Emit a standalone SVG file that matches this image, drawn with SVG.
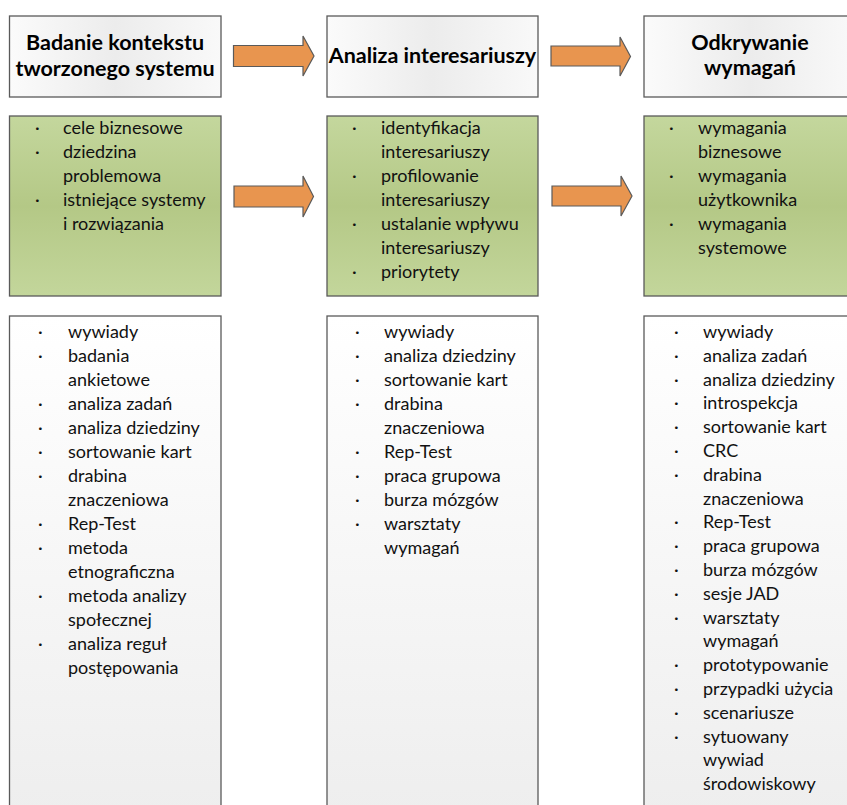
<svg xmlns="http://www.w3.org/2000/svg" width="847" height="805" viewBox="0 0 847 805">
  <defs>
    <linearGradient id="headFill" x1="0" y1="0" x2="1" y2="0">
      <stop offset="0" stop-color="#fbfbfb"/>
      <stop offset="0.5" stop-color="#ececec"/>
      <stop offset="1" stop-color="#f9f9f9"/>
    </linearGradient>
    <linearGradient id="greenFill" x1="0" y1="0" x2="0" y2="1">
      <stop offset="0" stop-color="#c4d79d"/>
      <stop offset="0.5" stop-color="#b4c886"/>
      <stop offset="1" stop-color="#c3d69b"/>
    </linearGradient>
    <linearGradient id="listFill" x1="0" y1="0" x2="0" y2="1">
      <stop offset="0" stop-color="#ffffff"/>
      <stop offset="1" stop-color="#eeeeee"/>
    </linearGradient>
  </defs>
  <style>
    .head { fill: url(#headFill); stroke: #5a5a5a; stroke-width: 1.3; }
    .green { fill: url(#greenFill); stroke: #5a5a5a; stroke-width: 1.3; }
    .list { fill: url(#listFill); stroke: #5a5a5a; stroke-width: 1.3; }
    .arrow { fill: #e8954f; stroke: #5a5a5a; stroke-width: 1.2; stroke-linejoin: miter; }
    .title { font-family: Lato, "Open Sans", "Liberation Sans", sans-serif; font-weight: bold; font-size: 21.5px; fill: #000; text-anchor: middle; }
    .item { font-family: Lato, "Open Sans", "Liberation Sans", sans-serif; font-size: 18px; fill: #111; }
  </style>
  <rect width="847" height="805" fill="#ffffff"/>

  <!-- column 1 -->
  <g id="context-title">
    <rect class="head" x="9.5" y="16" width="211.5" height="81"/>
    <text class="title" x="115" y="50">Badanie kontekstu</text>
    <text class="title" x="115" y="76">tworzonego systemu</text>
  </g>
  <g id="context-goals">
    <rect class="green" x="9.5" y="116" width="211.5" height="180"/>
    <g class="item">
      <text x="35" y="134">·</text><text x="63" y="134">cele biznesowe</text>
      <text x="35" y="158">·</text><text x="63" y="158">dziedzina</text>
      <text x="63" y="182">problemowa</text>
      <text x="35" y="206">·</text><text x="63" y="206">istniejące systemy</text>
      <text x="63" y="230">i rozwiązania</text>
    </g>
  </g>
  <g id="context-methods">
    <rect class="list" x="9.5" y="316" width="211.5" height="500"/>
    <g class="item">
      <text x="38" y="338">·</text><text x="68" y="338">wywiady</text>
      <text x="38" y="362">·</text><text x="68" y="362">badania</text>
      <text x="68" y="386">ankietowe</text>
      <text x="38" y="410">·</text><text x="68" y="410">analiza zadań</text>
      <text x="38" y="434">·</text><text x="68" y="434">analiza dziedziny</text>
      <text x="38" y="458">·</text><text x="68" y="458">sortowanie kart</text>
      <text x="38" y="482">·</text><text x="68" y="482">drabina</text>
      <text x="68" y="506">znaczeniowa</text>
      <text x="38" y="530">·</text><text x="68" y="530">Rep-Test</text>
      <text x="38" y="554">·</text><text x="68" y="554">metoda</text>
      <text x="68" y="578">etnograficzna</text>
      <text x="38" y="602">·</text><text x="68" y="602">metoda analizy</text>
      <text x="68" y="626">społecznej</text>
      <text x="38" y="650">·</text><text x="68" y="650">analiza reguł</text>
      <text x="68" y="674">postępowania</text>
    </g>
  </g>

  <!-- column 2 -->
  <g id="stakeholder-title">
    <rect class="head" x="327" y="16" width="211" height="81"/>
    <text class="title" x="432.5" y="63">Analiza interesariuszy</text>
  </g>
  <g id="stakeholder-goals">
    <rect class="green" x="327" y="116" width="211" height="180"/>
    <g class="item">
      <text x="352" y="134">·</text><text x="381" y="134">identyfikacja</text>
      <text x="381" y="158">interesariuszy</text>
      <text x="352" y="182">·</text><text x="381" y="182">profilowanie</text>
      <text x="381" y="206">interesariuszy</text>
      <text x="352" y="230">·</text><text x="381" y="230">ustalanie wpływu</text>
      <text x="381" y="254">interesariuszy</text>
      <text x="352" y="278">·</text><text x="381" y="278">priorytety</text>
    </g>
  </g>
  <g id="stakeholder-methods">
    <rect class="list" x="327" y="316" width="211" height="500"/>
    <g class="item">
      <text x="355" y="338">·</text><text x="384" y="338">wywiady</text>
      <text x="355" y="362">·</text><text x="384" y="362">analiza dziedziny</text>
      <text x="355" y="386">·</text><text x="384" y="386">sortowanie kart</text>
      <text x="355" y="410">·</text><text x="384" y="410">drabina</text>
      <text x="384" y="434">znaczeniowa</text>
      <text x="355" y="458">·</text><text x="384" y="458">Rep-Test</text>
      <text x="355" y="482">·</text><text x="384" y="482">praca grupowa</text>
      <text x="355" y="506">·</text><text x="384" y="506">burza mózgów</text>
      <text x="355" y="530">·</text><text x="384" y="530">warsztaty</text>
      <text x="384" y="554">wymagań</text>
    </g>
  </g>

  <!-- column 3 -->
  <g id="discovery-title">
    <rect class="head" x="644" y="16" width="212" height="81"/>
    <text class="title" x="750" y="50">Odkrywanie</text>
    <text class="title" x="750" y="75">wymagań</text>
  </g>
  <g id="discovery-goals">
    <rect class="green" x="644" y="116" width="212" height="180"/>
    <g class="item">
      <text x="669" y="134">·</text><text x="698" y="134">wymagania</text>
      <text x="698" y="158">biznesowe</text>
      <text x="669" y="182">·</text><text x="698" y="182">wymagania</text>
      <text x="698" y="206">użytkownika</text>
      <text x="669" y="230">·</text><text x="698" y="230">wymagania</text>
      <text x="698" y="254">systemowe</text>
    </g>
  </g>
  <g id="discovery-methods">
    <rect class="list" x="644" y="316" width="212" height="500"/>
    <g class="item">
      <text x="674" y="338">·</text><text x="703" y="338">wywiady</text>
      <text x="674" y="361.8">·</text><text x="703" y="361.8">analiza zadań</text>
      <text x="674" y="385.6">·</text><text x="703" y="385.6">analiza dziedziny</text>
      <text x="674" y="409.4">·</text><text x="703" y="409.4">introspekcja</text>
      <text x="674" y="433.2">·</text><text x="703" y="433.2">sortowanie kart</text>
      <text x="674" y="457">·</text><text x="703" y="457">CRC</text>
      <text x="674" y="480.8">·</text><text x="703" y="480.8">drabina</text>
      <text x="703" y="504.6">znaczeniowa</text>
      <text x="674" y="528.4">·</text><text x="703" y="528.4">Rep-Test</text>
      <text x="674" y="552.2">·</text><text x="703" y="552.2">praca grupowa</text>
      <text x="674" y="576">·</text><text x="703" y="576">burza mózgów</text>
      <text x="674" y="599.8">·</text><text x="703" y="599.8">sesje JAD</text>
      <text x="674" y="623.6">·</text><text x="703" y="623.6">warsztaty</text>
      <text x="703" y="647.4">wymagań</text>
      <text x="674" y="671.2">·</text><text x="703" y="671.2">prototypowanie</text>
      <text x="674" y="695">·</text><text x="703" y="695">przypadki użycia</text>
      <text x="674" y="718.8">·</text><text x="703" y="718.8">scenariusze</text>
      <text x="674" y="742.6">·</text><text x="703" y="742.6">sytuowany</text>
      <text x="703" y="766.4">wywiad</text>
      <text x="703" y="790.2">środowiskowy</text>
    </g>
  </g>

  <!-- block arrows between the columns -->
  <g id="connectors">
    <path class="arrow" d="M233.5,45.5 H303 V36 L314,56 L303,76 V66.5 H233.5 Z"/>
    <path class="arrow" d="M551,46 H620 V37 L630.5,56.5 L620,76 V66 H551 Z"/>
    <path class="arrow" d="M234,186 H303 V176 L313.5,196.5 L303,217 V207 H234 Z"/>
    <path class="arrow" d="M552,186 H621 V176 L632,196 L621,216 V206 H552 Z"/>
  </g>
</svg>
